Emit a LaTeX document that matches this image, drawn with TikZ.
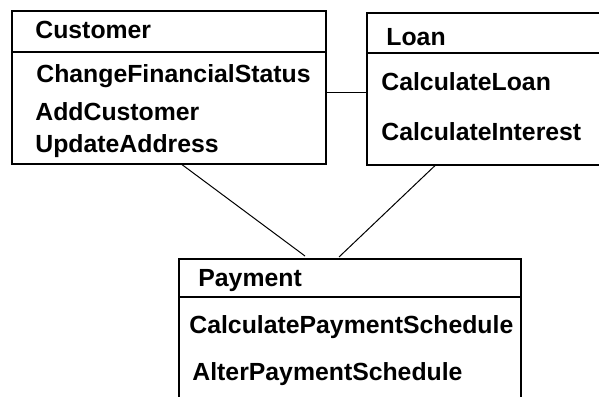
\documentclass[tikz,border=0pt]{standalone}
\usepackage{fontspec}
\setmainfont{Liberation Sans}
\usetikzlibrary{fit}
\begin{document}
\begin{tikzpicture}[
        x=0.5pt, y=-0.5pt,
        classe/.style = {draw, rectangle, inner sep=0pt, line width=0.6pt},
        texte/.style = {anchor=base west, inner sep=0pt, font=\fontsize{12.4}{14}\selectfont\bfseries}
    ]
        \useasboundingbox (0,0) rectangle (599,396);
        \clip (0,0) rectangle (599,396);

        % Définition des boîtes (classes)
        \node[classe, fit={(12,11) (326,164)}] (cust) {};
        \node[classe, fit={(367,13) (620,165)}] (loan) {};
        \node[classe, fit={(179,259) (521,410)}] (pay) {};

        % Séparateurs nom / opérations
        \draw[line width=0.6pt] (cust.west |- 0,52) -- (cust.east |- 0,52);
        \draw[line width=0.6pt] (loan.west |- 0,53) -- (loan.east |- 0,53);
        \draw[line width=0.6pt] (pay.west |- 0,297) -- (pay.east |- 0,297);

        % Textes
        \node[texte] (custN) at (35,38) {Customer};
        \node[texte] (custA) at (36,82) {ChangeFinancialStatus};
        \node[texte] (custB) at (35,120) {AddCustomer};
        \node[texte] (custC) at (35,152) {UpdateAddress};
        \node[texte] (loanN) at (386,45) {Loan};
        \node[texte] (loanA) at (381,90) {CalculateLoan};
        \node[texte] (loanB) at (381,140) {CalculateInterest};
        \node[texte] (payN) at (198,286) {Payment};
        \node[texte] (payA) at (189,333) {CalculatePaymentSchedule};
        \node[texte] (payB) at (192,380) {AlterPaymentSchedule};

        % Associations
        \draw[line width=0.5pt] ([yshift=-2.25pt]cust.east) -- ([yshift=-2.25pt]cust.east -| loan.west);
        \draw[line width=0.5pt] (182,0 |- cust.south) -- (305,256);
        \draw[line width=0.5pt] (435,0 |- loan.south) -- (339,257);

    \end{tikzpicture}
\end{document}
